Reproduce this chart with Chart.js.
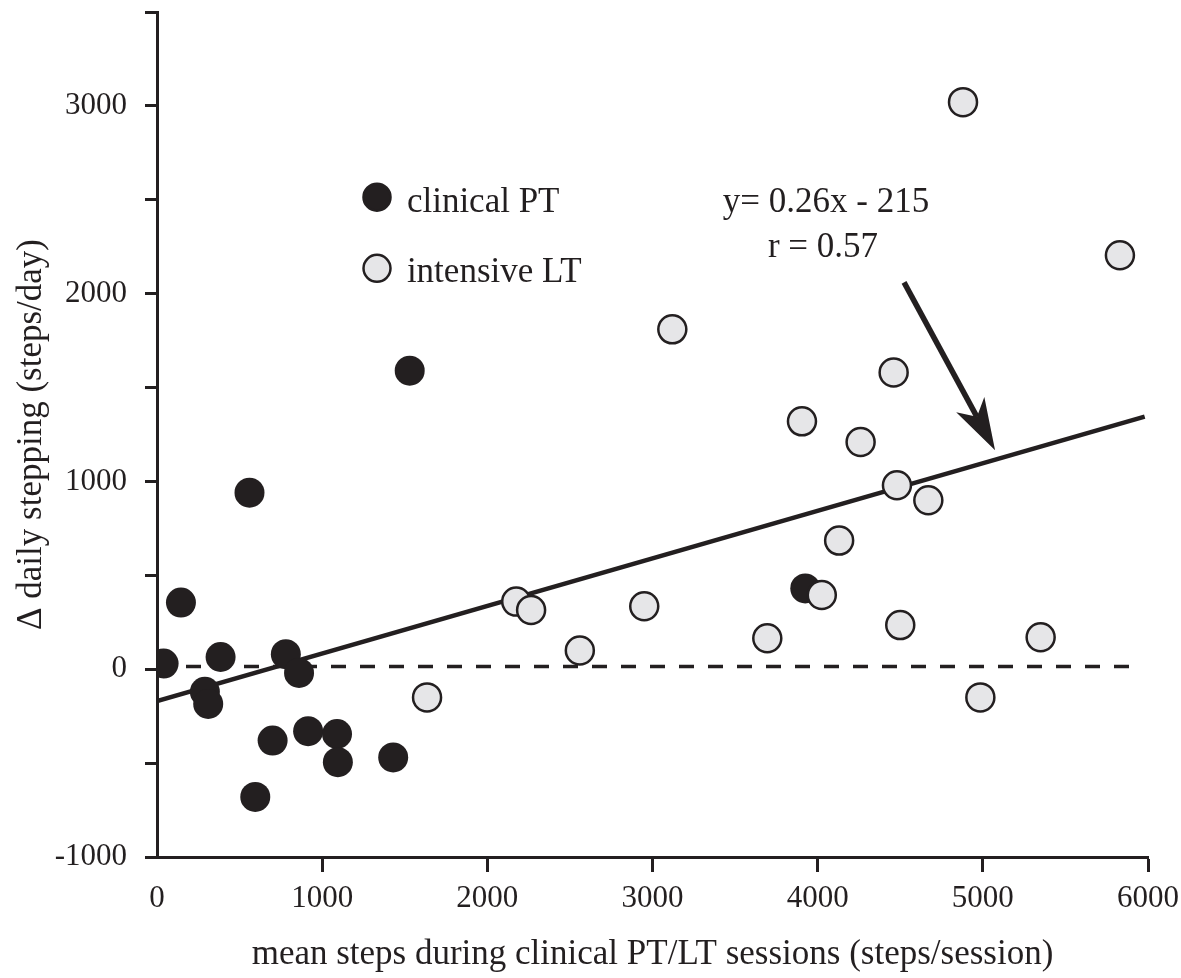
<!DOCTYPE html>
<html>
<head>
<meta charset="utf-8">
<script src="https://cdn.jsdelivr.net/npm/chart.js@4.4.1/dist/chart.umd.min.js"></script>
<style>
  html, body { margin: 0; padding: 0; background: #fff; }
  #wrap { width: 1181px; height: 978px; }
</style>
</head>
<body>
<div id="wrap"><canvas id="stepChart" width="1181" height="978"></canvas></div>
<script>
// data
const ptX = [40, 145, 385, 290, 310, 780, 860, 700, 915, 1090, 1095, 1430, 595, 560, 1530, 3925];
const ptY = [30, 355, 65, -120, -185, 80, -20, -380, -330, -345, -495, -470, -680, 940, 1590, 430];

const ltX = [1635, 2175, 2265, 2560, 2950, 3120, 3695, 3905, 4025, 4130, 4260, 4460, 4480, 4500, 4670, 4880, 4985, 5350, 5830];
const ltY = [-150, 360, 315, 100, 335, 1810, 165, 1320, 395, 685, 1210, 1580, 980, 235, 900, 3020, -150, 170, 2205];

const fitX = [0, 5980];
const fitY = [-170, 1345];

const zeroX = [0, 5930];
const zeroY = [15, 15];

const xTicks = [0, 1000, 2000, 3000, 4000, 5000, 6000];
const yLabelled = [-1000, 0, 1000, 2000, 3000];

const INK = "#231f20";
const SERIF = "'Liberation Serif', 'Times New Roman', serif";

function toPoints(xs, ys) {
  return xs.map((x, i) => ({ x: x, y: ys[i] }));
}

// legend, equation text and arrow, placed in data units
const notes = {
  legend: [
    { label: "clinical PT", x: 1332, y: 2514, tx: 1513, ty: 2434, fill: INK },
    { label: "intensive LT", x: 1332, y: 2135, tx: 1513, ty: 2061, fill: "#e6e6e8" },
  ],
  text: [
    { label: "y= 0.26x - 215", x: 3426, y: 2434 },
    { label: "r = 0.57", x: 3699, y: 2194 },
  ],
  arrow: { x0: 4523, y0: 2060, x1: 5074, y1: 1166 },
};

const notesPlugin = {
  id: "notes",
  afterDatasetsDraw(chart) {
    const ctx = chart.ctx;
    const xs = chart.scales.x;
    const ys = chart.scales.y;
    ctx.save();

    notes.legend.forEach((item) => {
      ctx.beginPath();
      ctx.arc(xs.getPixelForValue(item.x), ys.getPixelForValue(item.y), 13.5, 0, Math.PI * 2);
      ctx.fillStyle = item.fill;
      ctx.fill();
      ctx.lineWidth = 2.5;
      ctx.strokeStyle = INK;
      ctx.stroke();
    });

    ctx.fillStyle = INK;
    ctx.font = "35px " + SERIF;
    ctx.textAlign = "left";
    ctx.textBaseline = "alphabetic";
    notes.legend.forEach((item) => {
      ctx.fillText(item.label, xs.getPixelForValue(item.tx), ys.getPixelForValue(item.ty));
    });
    notes.text.forEach((item) => {
      ctx.fillText(item.label, xs.getPixelForValue(item.x), ys.getPixelForValue(item.y));
    });

    // arrow
    const a = notes.arrow;
    const sx = xs.getPixelForValue(a.x0);
    const sy = ys.getPixelForValue(a.y0);
    const tx = xs.getPixelForValue(a.x1);
    const ty = ys.getPixelForValue(a.y1);
    const len = Math.hypot(tx - sx, ty - sy);
    const dx = (tx - sx) / len;
    const dy = (ty - sy) / len;
    const nx = -dy;
    const ny = dx;
    const headLen = 52;
    const halfW = 16;
    const notch = 14;

    ctx.strokeStyle = INK;
    ctx.lineWidth = 5.5;
    ctx.beginPath();
    ctx.moveTo(sx, sy);
    ctx.lineTo(tx - dx * (headLen - notch), ty - dy * (headLen - notch));
    ctx.stroke();

    ctx.beginPath();
    ctx.moveTo(tx, ty);
    ctx.lineTo(tx - dx * headLen + nx * halfW, ty - dy * headLen + ny * halfW);
    ctx.lineTo(tx - dx * (headLen - notch), ty - dy * (headLen - notch));
    ctx.lineTo(tx - dx * headLen - nx * halfW, ty - dy * headLen - ny * halfW);
    ctx.closePath();
    ctx.fill();

    ctx.restore();
  },
};

function fixBox(size) {
  return function (scale) {
    if (scale.isHorizontal()) {
      scale.height = size;
    } else {
      scale.width = size;
    }
    scale.paddingTop = 0;
    scale.paddingBottom = 0;
    scale.paddingLeft = 0;
    scale.paddingRight = 0;
  };
}

const ctx = document.getElementById("stepChart").getContext("2d");

new Chart(ctx, {
  type: "scatter",
  data: {
    datasets: [
      {
        label: "intensive LT",
        data: toPoints(ltX, ltY),
        pointRadius: 14,
        pointBackgroundColor: "#e6e6e8",
        pointBorderColor: INK,
        pointBorderWidth: 2.5,
        order: 0,
      },
      {
        label: "clinical PT",
        data: toPoints(ptX, ptY),
        pointRadius: 15,
        pointBackgroundColor: INK,
        pointBorderColor: INK,
        pointBorderWidth: 0,
        order: 1,
      },
      {
        type: "line",
        label: "fit",
        data: toPoints(fitX, fitY),
        borderColor: INK,
        borderWidth: 4.5,
        pointRadius: 0,
        order: 2,
      },
      {
        type: "line",
        label: "zero",
        data: toPoints(zeroX, zeroY),
        borderColor: INK,
        borderWidth: 3.5,
        borderDash: [15, 14],
        pointRadius: 0,
        order: 3,
      },
    ],
  },
  options: {
    responsive: false,
    animation: false,
    layout: {
      autoPadding: false,
      padding: { top: 12, right: 33, left: 0, bottom: 0 },
    },
    plugins: {
      legend: { display: false },
      tooltip: { enabled: false },
    },
    scales: {
      x: {
        type: "linear",
        min: 0,
        max: 6000,
        afterBuildTicks: (scale) => {
          scale.ticks = xTicks.map((v) => ({ value: v }));
        },
        afterFit: fixBox(121),
        border: { display: true, color: INK, width: 3 },
        grid: {
          drawOnChartArea: false,
          drawTicks: true,
          tickLength: 15,
          tickWidth: 3,
          tickColor: (c) => (c.tick && c.tick.value === 0 ? "rgba(0,0,0,0)" : INK),
        },
        ticks: {
          color: INK,
          padding: 8,
          font: { family: SERIF, size: 31 },
          callback: (v) => String(v),
        },
        title: {
          display: true,
          text: "mean steps during clinical PT/LT sessions (steps/session)",
          color: INK,
          font: { family: SERIF, size: 35 },
          padding: { top: 0, bottom: 2 },
        },
      },
      y: {
        type: "linear",
        min: -1000,
        max: 3500,
        afterFit: fixBox(157),
        border: { display: true, color: INK, width: 3 },
        grid: {
          drawOnChartArea: false,
          drawTicks: true,
          tickLength: 12,
          tickWidth: 3,
          tickColor: INK,
        },
        ticks: {
          stepSize: 500,
          color: INK,
          padding: 18,
          font: { family: SERIF, size: 31 },
          callback: (v) => (yLabelled.includes(v) ? String(v) : ""),
        },
        title: {
          display: true,
          text: "\u0394 daily stepping (steps/day)",
          color: INK,
          font: { family: SERIF, size: 35 },
          padding: { top: 11, bottom: 0 },
        },
      },
    },
  },
  plugins: [notesPlugin],
});
</script>
</body>
</html>
